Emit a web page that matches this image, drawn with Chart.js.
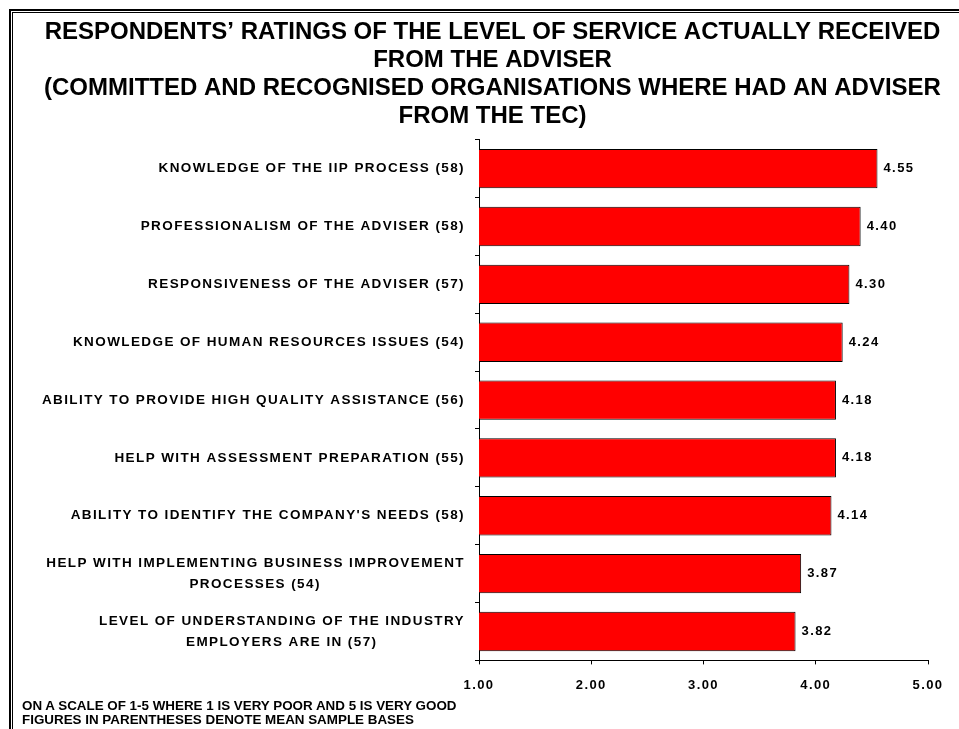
<!DOCTYPE html>
<html>
<head>
<meta charset="utf-8">
<title>Adviser service ratings</title>
<script src="https://cdn.jsdelivr.net/npm/chart.js@4/dist/chart.umd.min.js"></script>
<style>
  body { margin: 0; background: #fff; }
  #wrap { position: relative; width: 959px; height: 729px; overflow: hidden; }
  /* page frame: heavy outer rule with a thin inner rule */
  #frame { position: absolute; left: 9px; top: 9px; right: -10px; bottom: -10px;
           border-left: 2px solid #000; border-top: 2px solid #000; }
  #frame::after { content: ''; position: absolute; left: 1px; top: 1px; right: 0; bottom: 0;
                  border-left: 1px solid #000; border-top: 1px solid #000; }
  #chart { position: absolute; left: 0; top: 0; }
  #notes { position: absolute; left: 22px; top: 699px; color: #000;
           font: bold 13.4px 'Liberation Sans', Arial, sans-serif; line-height: 13.5px; }
</style>
</head>
<body>
<div id="wrap">
  <div id="frame"></div>
  <canvas id="chart" width="959" height="729"></canvas>
  <div id="notes">
    ON A SCALE OF 1-5 WHERE 1 IS VERY POOR AND 5 IS VERY GOOD<br>
    FIGURES IN PARENTHESES DENOTE MEAN SAMPLE BASES
  </div>
</div>
<script>
// Service aspects, top to bottom (long ones already split in two lines)
const topics = [
    ['KNOWLEDGE OF THE IIP PROCESS'],
    ['PROFESSIONALISM OF THE ADVISER'],
    ['RESPONSIVENESS OF THE ADVISER'],
    ['KNOWLEDGE OF HUMAN RESOURCES ISSUES'],
    ['ABILITY TO PROVIDE HIGH QUALITY ASSISTANCE'],
    ['HELP WITH ASSESSMENT PREPARATION'],
    ["ABILITY TO IDENTIFY THE COMPANY'S NEEDS"],
    ['HELP WITH IMPLEMENTING BUSINESS IMPROVEMENT', 'PROCESSES'],
    ['LEVEL OF UNDERSTANDING OF THE INDUSTRY', 'EMPLOYERS ARE IN']
];
const sampleBases = [58, 58, 57, 54, 56, 55, 58, 54, 57];
const meanRatings = [4.55, 4.40, 4.30, 4.24, 4.18, 4.18, 4.14, 3.87, 3.82];
const ratingScale = [1, 5];

const titleLines = [
    'RESPONDENTS\u2019 RATINGS OF THE LEVEL OF SERVICE ACTUALLY RECEIVED',
    'FROM THE ADVISER',
    '(COMMITTED AND RECOGNISED ORGANISATIONS WHERE HAD AN ADVISER',
    'FROM THE TEC)'
];

const FAMILY = "'Liberation Sans', Arial, sans-serif";
const LABEL_SIZE = 13.5;
const TRACK = '1.4px';
const PAD_LEFT = 40;

// pad shorter lines with trailing blanks so they sit centred under the first one
function centreLines(lines) {
    if (lines.length < 2) return lines[0];
    const c = document.createElement('canvas').getContext('2d');
    c.font = 'bold ' + LABEL_SIZE + 'px ' + FAMILY;
    c.letterSpacing = TRACK;
    const widest = Math.max(...lines.map(l => c.measureText(l).width));
    const space = c.measureText(' ').width;
    return lines.map(l => l + ' '.repeat(Math.max(0, Math.round((widest - c.measureText(l).width) / 2 / space))));
}

const labels = topics.map((t, i) => {
    const lines = t.slice();
    lines[lines.length - 1] += ' (' + sampleBases[i] + ')';
    return centreLines(lines);
});

// axis and value text is spaced out, the title is not;
// tick labels are drawn after the bars (ticks.z = 1) so they pick up the spacing
const lettering = {
    id: 'lettering',
    afterLayout(chart) { chart.scales.y.left = 0; },   // long labels may run into the left padding
    beforeDraw(chart) { chart.ctx.letterSpacing = '0px'; },
    afterDatasetsDraw(chart) { chart.ctx.letterSpacing = TRACK; },
    afterDraw(chart) { chart.ctx.letterSpacing = '0px'; }
};

// mean value printed just past the end of each bar
const valueLabels = {
    id: 'valueLabels',
    afterDatasetsDraw(chart) {
        const ctx = chart.ctx;
        const meta = chart.getDatasetMeta(0);
        ctx.save();
        ctx.font = 'bold 13px ' + FAMILY;
        ctx.fillStyle = '#000';
        ctx.textAlign = 'left';
        ctx.textBaseline = 'middle';
        meta.data.forEach((bar, i) => {
            ctx.fillText(meanRatings[i].toFixed(2), bar.x + 6, bar.y);
        });
        ctx.restore();
    }
};

new Chart(document.getElementById('chart'), {
    type: 'bar',
    data: {
        labels: labels,
        datasets: [{
            data: meanRatings,
            backgroundColor: '#ff0000',
            borderColor: '#000',
            borderWidth: 1,
            borderSkipped: false,
            barPercentage: 0.68,
            categoryPercentage: 1
        }]
    },
    options: {
        indexAxis: 'y',
        responsive: false,
        animation: false,
        layout: { padding: { left: PAD_LEFT, right: 14, top: 0, bottom: 22 } },
        plugins: {
            legend: { display: false },
            tooltip: { enabled: false },
            title: {
                display: true,
                text: titleLines,
                color: '#000',
                font: { family: FAMILY, size: 24, weight: 'bold', lineHeight: 1.17 },
                padding: { top: 18, bottom: 9.4 }
            }
        },
        scales: {
            x: {
                min: ratingScale[0],
                max: ratingScale[1],
                afterFit: s => { s.paddingRight = 31; },   // keep the plot clear of the right edge
                ticks: {
                    stepSize: 1,
                    callback: v => Number(v).toFixed(2),
                    color: '#000',
                    font: { family: FAMILY, size: 13, weight: 'bold', lineHeight: 1.2 },
                    padding: 13.5,
                    maxRotation: 0,
                    z: 1
                },
                grid: { drawOnChartArea: false, tickLength: 4, color: '#000' },
                border: { color: '#000' }
            },
            y: {
                afterFit: s => { s.width = 479 - PAD_LEFT; },
                ticks: {
                    color: '#000',
                    font: { family: FAMILY, size: LABEL_SIZE, weight: 'bold', lineHeight: 1.53 },
                    padding: 10,
                    z: 1
                },
                grid: { drawOnChartArea: false, tickLength: 4, color: '#000', offset: true },
                border: { color: '#000' }
            }
        }
    },
    plugins: [lettering, valueLabels]
});
</script>
</body>
</html>
